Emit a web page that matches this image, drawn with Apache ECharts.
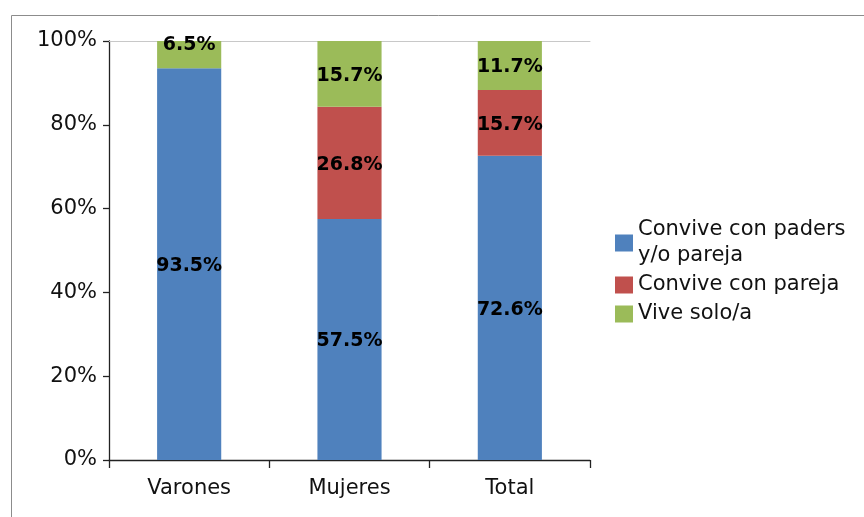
<!DOCTYPE html>
<html>
<head>
<meta charset="utf-8">
<script src="https://cdn.jsdelivr.net/npm/echarts@6/dist/echarts.min.js"></script>
<style>
  html, body { margin: 0; padding: 0; background: #fff; }
  #chart { width: 864px; height: 517px; }
</style>
</head>
<body>
<div id="chart"></div>
<script>
var categories = ['Varones', 'Mujeres', 'Total'];
var conviveParesPareja = [93.5, 57.5, 72.6];
var conviveConPareja = [null, 26.8, 15.7];
var viveSolo = [6.5, 15.7, 11.7];
var yTicks = [0, 20, 40, 60, 80, 100];

var seriesNames = ['Convive con paders y/o pareja', 'Convive con pareja', 'Vive solo/a'];
var seriesColors = ['#4F81BD', '#C0504D', '#9BBB59'];

function barLabel() {
    return {
        show: true,
        position: 'inside',
        offset: [0, 2],
        color: '#000',
        fontFamily: 'DejaVu Sans',
        fontWeight: 'bold',
        fontSize: 19,
        formatter: function (p) {
            return p.value == null ? '' : p.value.toFixed(1) + '%';
        }
    };
}

var myChart = echarts.init(document.getElementById('chart'));

var soloData = viveSolo.map(function (v, i) {
    // la etiqueta del primer tramo queda arriba, como en el original
    if (i === 0) {
        return { value: v, label: { offset: [0, -10] } };
    }
    return v;
});

var option = {
    animation: false,
    graphic: [{
        type: 'rect',
        shape: { x: 11.5, y: 15.5, width: 900, height: 600 },
        style: { fill: 'none', stroke: '#8c8c8c', lineWidth: 1 },
        silent: true
    }],
    grid: {
        left: 109,
        top: 41,
        width: 481,
        height: 419
    },
    legend: {
        orient: 'vertical',
        left: 615,
        top: 217,
        padding: 0,
        itemGap: 3,
        itemWidth: 18,
        itemHeight: 17,
        icon: 'rect',
        data: seriesNames,
        formatter: function (name) {
            return name === seriesNames[0] ? 'Convive con paders\ny/o pareja' : name;
        },
        textStyle: {
            fontFamily: 'DejaVu Sans',
            fontSize: 21,
            color: '#111',
            lineHeight: 26
        }
    },
    xAxis: [{
        type: 'category',
        data: categories,
        axisLine: { lineStyle: { color: '#222', width: 1.3 } },
        axisTick: { show: true, length: 8, lineStyle: { color: '#222', width: 1.3 } },
        axisLabel: {
            margin: 18,
            fontFamily: 'DejaVu Sans',
            fontSize: 21,
            color: '#111'
        }
    }, {
        type: 'category',
        position: 'top',
        data: categories,
        axisLine: { show: true, lineStyle: { color: '#c8c8c8' } },
        axisTick: { show: false },
        axisLabel: { show: false }
    }],
    yAxis: {
        type: 'value',
        min: yTicks[0],
        max: yTicks[yTicks.length - 1],
        interval: 20,
        axisLine: { show: true, lineStyle: { color: '#222', width: 1.3 } },
        axisTick: { show: true, length: 6, lineStyle: { color: '#222', width: 1.3 } },
        splitLine: { show: false },
        axisLabel: {
            margin: 12,
            formatter: '{value}%',
            fontFamily: 'DejaVu Sans',
            fontSize: 21,
            color: '#111'
        }
    },
    series: [
        {
            name: seriesNames[0],
            type: 'bar',
            stack: 'total',
            barWidth: '40%',
            data: conviveParesPareja,
            itemStyle: { color: seriesColors[0] },
            label: barLabel()
        },
        {
            name: seriesNames[1],
            type: 'bar',
            stack: 'total',
            data: conviveConPareja,
            itemStyle: { color: seriesColors[1] },
            label: barLabel()
        },
        {
            name: seriesNames[2],
            type: 'bar',
            stack: 'total',
            data: soloData,
            itemStyle: { color: seriesColors[2] },
            label: barLabel()
        }
    ]
};

myChart.setOption(option);
window.addEventListener('resize', function () {
    myChart.resize();
});
</script>
</body>
</html>
